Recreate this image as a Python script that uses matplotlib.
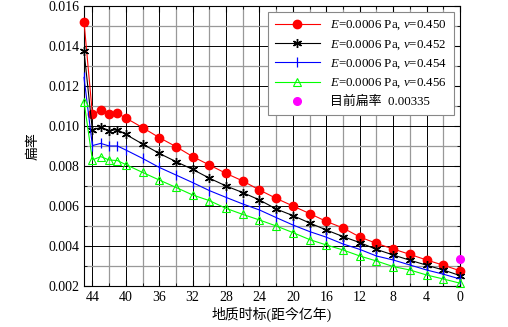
import matplotlib
matplotlib.use('Agg')
import matplotlib.pyplot as plt
from matplotlib.ticker import MultipleLocator

plt.rcParams['font.family'] = ['Liberation Serif', 'Noto Sans CJK SC']
plt.rcParams['mathtext.fontset'] = 'custom'
plt.rcParams['mathtext.it'] = 'Liberation Serif:italic'
plt.rcParams['mathtext.rm'] = 'Liberation Serif'

# 地质时标 (距今亿年)
edad = [45, 44, 43, 42, 41, 40, 38, 36, 34, 32, 30, 28, 26, 24, 22, 20,
        18, 16, 14, 12, 10, 8, 6, 4, 2, 0]

f_450 = [0.0152, 0.0106, 0.01078, 0.0106, 0.01063, 0.0104, 0.00992, 0.00942,
         0.00897, 0.00847, 0.00805, 0.00763, 0.00725, 0.0068, 0.00638, 0.006,
         0.00562, 0.00523, 0.0049, 0.00445, 0.00413, 0.00385, 0.00358, 0.0033,
         0.00304, 0.00276]
f_452 = [0.01375, 0.0098, 0.00993, 0.00977, 0.00982, 0.00958, 0.0091, 0.00863,
         0.00822, 0.00783, 0.00739, 0.007, 0.00667, 0.0063, 0.00585, 0.00552,
         0.00515, 0.0048, 0.00447, 0.00417, 0.00383, 0.00355, 0.00329, 0.00304,
         0.0028, 0.00252]
f_454 = [0.01243, 0.00902, 0.00913, 0.009, 0.009, 0.0088, 0.00838, 0.00793,
         0.00755, 0.00717, 0.00677, 0.00643, 0.0061, 0.0058, 0.00542, 0.00505,
         0.00472, 0.00444, 0.0041, 0.00383, 0.0035, 0.0033, 0.00305, 0.0028,
         0.00259, 0.00235]
f_456 = [0.01122, 0.0083, 0.00847, 0.0083, 0.00827, 0.00807, 0.00768, 0.0073,
         0.00693, 0.00655, 0.00627, 0.00588, 0.00558, 0.0053, 0.005, 0.00467,
         0.00432, 0.00405, 0.0038, 0.0035, 0.00325, 0.00297, 0.0028, 0.00255,
         0.00235, 0.00214]

edad_actual = [0]
f_actual = [0.00335]

etiquetas = ['$E$=0.0006 Pa, $v$=0.450', '$E$=0.0006 Pa, $v$=0.452',
             '$E$=0.0006 Pa, $v$=0.454', '$E$=0.0006 Pa, $v$=0.456',
             '目前扁率  0.00335']

fig = plt.figure(figsize=(5.08, 3.27), dpi=100)
ax = fig.add_axes([0.1654, 0.1254, 0.7402, 0.8563])

ax.plot(edad, f_450, color='red', lw=0.8, marker='o', ms=6, mec='red',
        clip_on=False, label=etiquetas[0], zorder=5)
ax.plot(edad, f_452, color='black', lw=0.8, marker=(6, 2, 0), ms=6.5,
        mew=1.0, clip_on=False, label=etiquetas[1], zorder=5)
ax.plot(edad, f_454, color='blue', lw=0.8, marker='|', ms=7, mew=0.9,
        clip_on=False, label=etiquetas[2], zorder=5)
ax.plot(edad, f_456, color='lime', lw=0.8, marker='^', ms=6, mfc='none',
        mew=0.8, clip_on=False, label=etiquetas[3], zorder=5)
ax.plot(edad_actual, f_actual, ls='none', marker='o', ms=5.5,
        color='magenta', clip_on=False, label=etiquetas[4], zorder=6)

ax.set_xlim(45, 0)
ax.set_ylim(0.002, 0.016)
ax.xaxis.set_major_locator(MultipleLocator(4))
ax.xaxis.set_minor_locator(MultipleLocator(2))
ax.yaxis.set_major_locator(MultipleLocator(0.002))
ax.yaxis.set_minor_locator(MultipleLocator(0.001))
ax.yaxis.set_major_formatter(plt.FormatStrFormatter('%.3f'))

ax.grid(which='major', color='black', lw=0.7)
ax.grid(which='minor', color='#999999', lw=0.9)
ax.set_axisbelow(True)
ax.tick_params(which='both', direction='in', top=True, right=True,
               labelsize=10)
ax.tick_params(which='major', length=4)
ax.tick_params(which='minor', length=2)

ax.set_xlabel('地质时标(距今亿年)', fontsize=10, labelpad=2)
ax.set_ylabel('扁率', fontsize=10, labelpad=6)

leg = ax.legend(loc='upper right', fontsize=9.3, fancybox=False,
                framealpha=1, edgecolor='#888888', handlelength=3.5,
                handletextpad=0.8, borderaxespad=0.5, borderpad=0.5,
                labelspacing=0.45)
leg.get_frame().set_linewidth(0.8)

fig.savefig('out.png', dpi=100)
